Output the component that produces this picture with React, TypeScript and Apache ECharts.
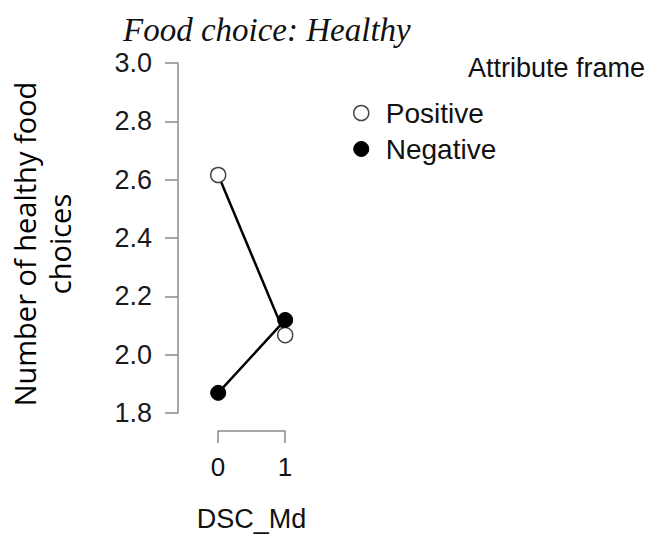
import React, { useEffect, useRef } from "react";
import * as echarts from "echarts";

const xValues = [0, 1];
const xTickLabels = ["0", "1"];
const positiveValues = [2.616, 2.067];
const negativeValues = [1.869, 2.119];
const seriesNames = ["Positive", "Negative"];
const yMin = 1.8;
const yMax = 3.0;
const yStep = 0.2;

export default function App() {
  const ref = useRef<HTMLDivElement>(null);
  useEffect(() => {
    if (!ref.current) return;
    const chart = echarts.init(ref.current, null, { renderer: "svg" });
    const sans = "Liberation Sans, Arial, Helvetica, sans-serif";
    const axisGray = "#8a8a8a";
    chart.setOption({
      animation: false,
      backgroundColor: "#fff",
      title: [
        {
          text: "Food choice: Healthy",
          left: 123,
          top: 13,
          padding: 0,
          textStyle: {
            fontFamily: "Liberation Serif, Times New Roman, serif",
            fontStyle: "italic",
            fontWeight: "normal",
            fontSize: 33,
            color: "#111",
          },
        },
        {
          text: "Attribute frame",
          right: 8,
          top: 54,
          padding: 0,
          textStyle: { fontFamily: sans, fontWeight: "normal", fontSize: 27, color: "#111" },
        },
      ],
      legend: {
        orient: "vertical",
        left: 353,
        top: 99,
        padding: 0,
        itemWidth: 15,
        itemHeight: 15,
        itemGap: 8,
        textStyle: {
          fontFamily: sans,
          fontSize: 28,
          lineHeight: 28,
          color: "#111",
          padding: [0, 0, 0, 12],
        },
        data: [
          {
            name: seriesNames[0],
            icon: "circle",
            itemStyle: { color: "#fff", borderColor: "#444", borderWidth: 1.5 },
          },
          {
            name: seriesNames[1],
            icon: "circle",
            itemStyle: { color: "#000", borderColor: "#000", borderWidth: 1 },
          },
        ],
      },
      grid: [
        { left: 178, top: 63, width: 147.4, height: 350 },
        { left: 218, top: 413, width: 67, height: 18 },
      ],
      xAxis: [
        {
          type: "value",
          gridIndex: 0,
          min: -0.6,
          max: 1.6,
          show: false,
        },
        {
          type: "value",
          gridIndex: 1,
          min: 0,
          max: 1,
          interval: 1,
          position: "bottom",
          axisLine: { show: true, onZero: false, lineStyle: { color: axisGray, width: 1.5 } },
          axisTick: { show: true, length: 12, lineStyle: { color: axisGray, width: 1.5 } },
          splitLine: { show: false },
          axisLabel: {
            margin: 23,
            fontFamily: sans,
            fontSize: 26,
            color: "#111",
            formatter: (v: number) => xTickLabels[xValues.indexOf(v)] ?? String(v),
          },
          name: "DSC_Md",
          nameLocation: "middle",
          nameGap: 74,
          nameTextStyle: { fontFamily: sans, fontSize: 27, color: "#111" },
        },
      ],
      yAxis: [
        {
          type: "value",
          gridIndex: 0,
          min: yMin,
          max: yMax,
          interval: yStep,
          axisLine: { show: true, onZero: false, lineStyle: { color: axisGray, width: 1.5 } },
          axisTick: { show: true, length: 13, lineStyle: { color: axisGray, width: 1.5 } },
          splitLine: { show: false },
          axisLabel: {
            margin: 26,
            fontFamily: sans,
            fontSize: 27,
            color: "#1a1a1a",
            formatter: (v: number) => v.toFixed(1),
          },
        },
        { type: "value", gridIndex: 1, show: false },
      ],
      graphic: [
        {
          type: "text",
          x: 42,
          y: 244,
          rotation: Math.PI / 2,
          style: {
            text: "Number of healthy food\nchoices",
            fontFamily: "Open Sans, sans-serif",
            fontSize: 29,
            lineHeight: 35,
            fill: "#000",
            align: "center",
            verticalAlign: "middle",
          },
        },
      ],
      series: [
        {
          name: seriesNames[0],
          type: "line",
          xAxisIndex: 0,
          yAxisIndex: 0,
          data: xValues.map((x, i) => [x, positiveValues[i]]),
          symbol: "circle",
          symbolSize: 15,
          lineStyle: { color: "#000", width: 2.5 },
          itemStyle: { color: "#fff", borderColor: "#444", borderWidth: 1.5 },
        },
        {
          name: seriesNames[1],
          type: "line",
          xAxisIndex: 0,
          yAxisIndex: 0,
          data: xValues.map((x, i) => [x, negativeValues[i]]),
          symbol: "circle",
          symbolSize: 15,
          lineStyle: { color: "#000", width: 2.5 },
          itemStyle: { color: "#000", borderColor: "#000", borderWidth: 1 },
        },
      ],
    });
    return () => chart.dispose();
  }, []);
  return <div ref={ref} style={{ width: 653, height: 534, position: "absolute", left: 0, top: 0 }} />;
}
